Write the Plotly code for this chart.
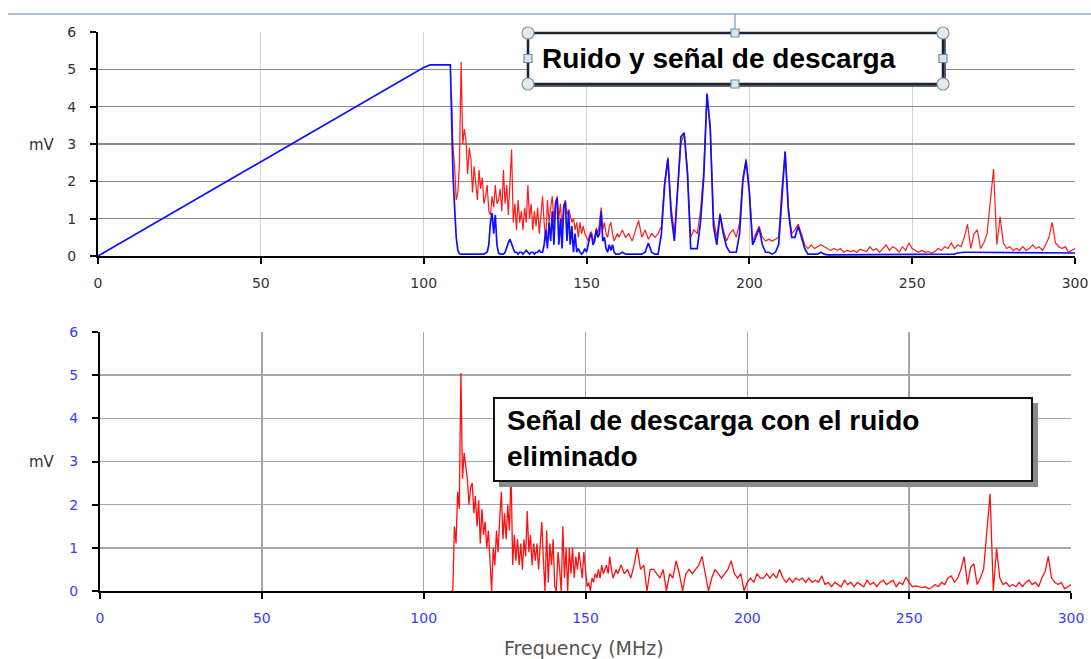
import plotly.graph_objects as go

# ---------------- data ----------------
# frequency grid (MHz)
freq_a = [108.5, 109.0, 109.5, 110.0, 110.5, 111.0, 111.5, 112.0, 112.5, 113.0,
          113.5, 114.0, 114.5, 115.0, 115.5, 116.0, 116.5, 117.0, 117.5, 118.0,
          118.5, 119.0, 119.5, 120.0, 120.5, 121.0, 121.5, 122.0, 122.5, 123.0,
          123.5, 124.0, 124.5, 125.0, 125.5, 126.0, 126.5, 127.0, 127.5, 128.0,
          128.5, 129.0, 129.5, 130.0, 130.5, 131.0, 131.5, 132.0, 132.5, 133.0,
          133.5, 134.0, 134.5, 135.0, 135.5, 136.0, 136.5, 137.0, 137.5, 138.0,
          138.5, 139.0, 139.5, 140.0, 140.5, 141.0, 141.5, 142.0, 142.5, 143.0,
          143.5, 144.0, 144.5, 145.0, 145.5, 146.0, 146.5, 147.0, 147.5, 148.0,
          148.5, 149.0, 149.5, 150.0, 150.5, 151.0, 151.5, 152.0, 152.5, 153.0,
          153.5, 154.0, 154.5, 155.0, 155.5, 156.0, 156.5, 157.0, 157.5, 158.0,
          158.5, 159.0, 159.5]
freq_b = [160, 161, 162, 163, 164, 165, 166, 167, 168, 169,
          170, 171, 172, 173, 174, 175, 176, 177, 178, 179,
          180, 181, 182, 183, 184, 185, 186, 187, 188, 189,
          190, 191, 192, 193, 194, 195, 196, 197, 198, 199,
          200, 201, 202, 203, 204, 205, 206, 207, 208, 209,
          210, 211, 212, 213, 214, 215, 216, 217, 218, 219,
          220, 221, 222, 223, 224, 225, 226, 227, 228, 229,
          230, 231, 232, 233, 234, 235, 236, 237, 238, 239,
          240, 241, 242, 243, 244, 245, 246, 247, 248, 249,
          250, 251, 252, 253, 254, 255, 256, 257, 258, 259,
          260, 261, 262, 263, 264, 265, 266, 267, 268, 269,
          270, 271, 272, 273, 274, 275, 276, 277, 278, 279,
          280, 281, 282, 283, 284, 285, 286, 287, 288, 289,
          290, 291, 292, 293, 294, 295, 296, 297, 298, 299,
          300]

# ramp part of the blue trace (before the noise region)
ramp_freq = [0, 100, 102, 108.2]
ramp_mv = [0, 5.05, 5.12, 5.12]

# Ruido y señal (red, top), mV
ruido_senal_a = [4.4, 2.9, 2.4, 1.5, 1.7, 2.5, 5.2, 3.0, 3.4, 3.1,
                 2.2, 2.9, 2.6, 1.7, 2.4, 2.0, 1.5, 2.3, 1.8, 2.1,
                 1.4, 1.6, 1.9, 1.2, 1.1, 1.6, 1.3, 1.9, 1.4, 1.5,
                 1.8, 1.2, 2.3, 1.4, 1.9, 1.1, 2.2, 2.85, 0.9, 1.4,
                 0.7, 1.5, 0.9, 1.2, 0.7, 1.3, 0.9, 1.9, 1.0, 1.4,
                 0.7, 1.2, 0.8, 1.3, 0.6, 1.1, 1.6, 0.9, 0.4, 1.5,
                 0.9, 1.3, 1.6, 0.9, 1.45, 1.6, 1.0, 1.4, 0.7, 1.35,
                 1.5, 1.1, 1.25, 1.1, 0.9, 1.0, 0.7, 0.9, 0.5, 0.9,
                 0.6, 0.8, 0.6, 0.5, 0.4, 0.6, 0.65, 0.4, 0.5, 0.75,
                 0.6, 0.9, 1.3, 0.7, 0.9, 0.6, 0.5, 0.8, 0.9, 0.6,
                 0.4, 0.5, 0.6]
ruido_senal_b = [0.5, 0.7, 0.5, 0.6, 0.4, 0.7, 0.95, 0.5, 0.7, 0.45,
                 0.6, 0.5, 0.6, 0.8, 2.0, 2.65, 1.3, 0.6, 1.9, 3.0,
                 3.3, 2.3, 0.5, 0.7, 0.6, 1.2, 2.3, 4.3, 3.5, 1.0,
                 0.5, 1.15, 0.7, 0.4, 0.6, 0.7, 0.5, 0.9, 2.1, 2.6,
                 1.8, 0.4, 0.6, 0.8, 0.5, 0.4, 0.45, 0.4, 0.45, 0.5,
                 1.8, 2.8, 1.3, 0.6, 0.7, 0.85, 0.6, 0.3, 0.2, 0.3,
                 0.2, 0.25, 0.3, 0.25, 0.2, 0.15, 0.2, 0.15, 0.2, 0.1,
                 0.15, 0.12, 0.15, 0.1, 0.18, 0.15, 0.12, 0.25, 0.15, 0.2,
                 0.1, 0.2, 0.3, 0.15, 0.25, 0.2, 0.1, 0.25, 0.15, 0.35,
                 0.2, 0.15, 0.1, 0.15, 0.1, 0.12, 0.08, 0.12, 0.2, 0.15,
                 0.25, 0.2, 0.35, 0.2, 0.3, 0.25, 0.5, 0.85, 0.2, 0.6,
                 0.7, 0.2, 0.35, 0.6, 1.4, 2.33, 0.3, 1.05, 0.35, 0.2,
                 0.25, 0.15, 0.2, 0.15, 0.25, 0.15, 0.2, 0.3, 0.2, 0.25,
                 0.15, 0.3, 0.5, 0.9, 0.35, 0.25, 0.2, 0.25, 0.1, 0.15,
                 0.2]

# Ruido (blue, top), mV
ruido_a = [4.0, 2.2, 1.3, 0.5, 0.15, 0.06, 0.05, 0.05, 0.05, 0.05,
           0.05, 0.05, 0.05, 0.05, 0.05, 0.05, 0.05, 0.05, 0.05, 0.05,
           0.05, 0.08, 0.1, 0.3, 0.9, 1.15, 0.6, 1.1, 0.3, 0.08,
           0.05, 0.05, 0.05, 0.1, 0.25, 0.35, 0.45, 0.35, 0.2, 0.1,
           0.1, 0.05, 0.1, 0.1, 0.05, 0.1, 0.15, 0.1, 0.05, 0.1,
           0.1, 0.05, 0.1, 0.1, 0.15, 0.1, 0.1, 0.3, 0.7, 0.2,
           0.9, 0.4, 1.2, 0.3, 1.4, 1.55, 0.3, 1.0, 0.2, 1.3,
           1.45, 0.4, 1.2, 0.3, 0.8, 0.1, 0.6, 0.1, 0.2, 0.1,
           0.05, 0.1, 0.2, 0.1, 0.3, 0.5, 0.6, 0.3, 0.4, 0.7,
           0.5, 0.6, 1.2, 0.4, 0.5, 0.2, 0.1, 0.3, 0.15, 0.3,
           0.1, 0.05, 0.05]
ruido_b = [0.05, 0.1, 0.05, 0.05, 0.05, 0.05, 0.05, 0.05, 0.1, 0.35,
           0.1, 0.05, 0.05, 0.6, 1.9, 2.6, 1.1, 0.4, 1.8, 3.2,
           3.3, 2.2, 0.2, 0.2, 0.2, 0.9, 2.1, 4.35, 3.4, 0.8,
           0.3, 1.1, 0.6, 0.25, 0.1, 0.1, 0.1, 0.6, 2.0, 2.55,
           1.7, 0.3, 0.5, 0.75, 0.3, 0.1, 0.1, 0.05, 0.1, 0.3,
           1.6, 2.8, 1.2, 0.5, 0.5, 0.8, 0.5, 0.2, 0.05, 0.05,
           0.05, 0.05, 0.1, 0.05, 0.03, 0.03, 0.03, 0.03, 0.03, 0.03,
           0.03, 0.03, 0.03, 0.03, 0.03, 0.03, 0.03, 0.03, 0.03, 0.03,
           0.03, 0.03, 0.03, 0.03, 0.03, 0.03, 0.03, 0.03, 0.03, 0.03,
           0.03, 0.03, 0.03, 0.03, 0.03, 0.03, 0.03, 0.03, 0.03, 0.03,
           0.03, 0.03, 0.03, 0.05, 0.08, 0.1, 0.1, 0.1, 0.1, 0.1,
           0.1, 0.1, 0.1, 0.1, 0.1, 0.1, 0.1, 0.1, 0.1, 0.1,
           0.1, 0.1, 0.1, 0.1, 0.1, 0.1, 0.1, 0.1, 0.1, 0.1,
           0.1, 0.1, 0.1, 0.1, 0.1, 0.1, 0.1, 0.1, 0.1, 0.1,
           0.08]

# Señal de descarga con el ruido eliminado (red, bottom), mV
senal_a = [0.0, 0.0, 1.5, 1.1, 2.3, 1.9, 5.05, 2.6, 3.2, 2.9,
           2.6, 2.0, 2.4, 2.5, 1.8, 2.2, 1.5, 2.1, 1.1, 1.9,
           1.3, 1.6, 1.0, 1.4, 0.8, 0.0, 1.0, 0.6, 1.4, 0.9,
           1.7, 2.3, 1.2, 1.8, 1.2, 2.0, 1.4, 2.8, 0.6, 1.3,
           0.7, 1.2, 0.6, 1.1, 0.5, 1.2, 0.8, 1.85, 0.9, 1.3,
           0.6, 1.1, 0.7, 1.1, 0.5, 1.0, 1.6, 0.7, 0.0, 1.4,
           0.2, 1.1, 0.6, 1.2, 0.1, 0.0, 0.9, 0.5, 0.0, 1.5,
           0.3, 1.0, 0.0, 1.0, 0.4, 1.0, 0.3, 0.8, 0.5, 0.9,
           0.6, 0.3, 0.9, 0.5, 0.1, 0.2, 0.0, 0.3, 0.2, 0.4,
           0.3, 0.5, 0.3, 0.6, 0.4, 0.5, 0.6, 0.4, 0.8, 0.5,
           0.3, 0.4, 0.5]
senal_b = [0.4, 0.6, 0.4, 0.5, 0.3, 0.6, 1.0, 0.5, 0.6, 0.0,
           0.5, 0.5, 0.4, 0.3, 0.5, 0.0, 0.4, 0.3, 0.7, 0.4,
           0.0, 0.4, 0.5, 0.4, 0.5, 0.6, 0.8, 0.4, 0.0, 0.3,
           0.5, 0.4, 0.3, 0.4, 0.5, 0.7, 0.4, 0.3, 0.4, 0.0,
           0.2, 0.3, 0.2, 0.4, 0.3, 0.3, 0.4, 0.3, 0.4, 0.3,
           0.5, 0.3, 0.2, 0.3, 0.2, 0.3, 0.25, 0.3, 0.2, 0.3,
           0.2, 0.25, 0.2, 0.35, 0.15, 0.2, 0.1, 0.2, 0.15, 0.1,
           0.25, 0.15, 0.2, 0.1, 0.2, 0.15, 0.1, 0.25, 0.15, 0.2,
           0.1, 0.2, 0.25, 0.15, 0.2, 0.25, 0.1, 0.2, 0.15, 0.32,
           0.2, 0.1, 0.12, 0.1, 0.08, 0.1, 0.05, 0.08, 0.15, 0.1,
           0.2, 0.15, 0.3, 0.35, 0.2, 0.3, 0.5, 0.8, 0.15, 0.55,
           0.63, 0.15, 0.3, 0.5, 1.3, 2.25, 0.0, 0.99, 0.3, 0.15,
           0.2, 0.1, 0.15, 0.1, 0.2, 0.1, 0.2, 0.25, 0.15, 0.2,
           0.1, 0.3, 0.45, 0.8, 0.3, 0.2, 0.15, 0.2, 0.05, 0.1,
           0.15]

x_ticks = [0, 50, 100, 150, 200, 250, 300]
y_ticks = [0, 1, 2, 3, 4, 5, 6]

title_top = "Ruido y señal de descarga"
title_bottom = "Señal de descarga con el ruido<br>eliminado"
x_title = "Frequency (MHz)"
y_title = "mV"

for a, b in [(ruido_senal_a, ruido_senal_b), (ruido_a, ruido_b), (senal_a, senal_b)]:
    assert len(a) == len(freq_a), (len(a), len(freq_a))
    assert len(b) == len(freq_b), (len(b), len(freq_b))

freq = freq_a + freq_b
ruido_senal = ruido_senal_a + ruido_senal_b
ruido = ruido_a + ruido_b
senal = senal_a + senal_b

# ---------------- figure ----------------
W, H = 1091, 659


def px(x):
    return x / W


def py(y):
    return 1 - y / H


fig = go.Figure()
fig.add_trace(go.Scatter(x=freq, y=ruido_senal, mode="lines", xaxis="x", yaxis="y",
                         line=dict(color="#ff1a1a", width=1.2), hoverinfo="skip"))
fig.add_trace(go.Scatter(x=ramp_freq + freq, y=ramp_mv + ruido, mode="lines", xaxis="x", yaxis="y",
                         line=dict(color="#1010ff", width=1.7), hoverinfo="skip"))
fig.add_trace(go.Scatter(x=freq, y=senal, mode="lines", xaxis="x2", yaxis="y2",
                         line=dict(color="#ff1010", width=1.3), hoverinfo="skip"))

tick_font_top = dict(family="DejaVu Sans", size=14, color="#333333")
tick_font_bot = dict(family="DejaVu Sans", size=14, color="#3a3aff")

common_x = dict(range=[0, 300], tickvals=x_ticks, showline=True, linecolor="black", linewidth=2,
                ticks="outside", ticklen=6, tickwidth=2, tickcolor="black", zeroline=False,
                ticklabelstandoff=7, fixedrange=True)
common_y = dict(range=[0, 6], tickvals=y_ticks, showline=True, linecolor="black", linewidth=2,
                ticks="outside", ticklen=6, tickwidth=2, tickcolor="black", zeroline=False,
                ticklabelstandoff=11, fixedrange=True)

fig.update_layout(
    width=W, height=H, autosize=False,
    margin=dict(l=0, r=0, t=0, b=0, autoexpand=False),
    paper_bgcolor="white", plot_bgcolor="white",
    showlegend=False,
    xaxis=dict(domain=[px(98), px(1075)], anchor="y", showgrid=True, gridcolor="#d2d2d2",
               gridwidth=1, tickfont=tick_font_top, **common_x),
    yaxis=dict(domain=[py(256), py(32)], anchor="x", showgrid=True, gridcolor="#8a8a8a",
               gridwidth=1.5, tickfont=tick_font_top, **common_y),
    xaxis2=dict(domain=[px(100), px(1071)], anchor="y2", showgrid=True, gridcolor="#a6a6a6",
                gridwidth=1.6, tickfont=tick_font_bot, **common_x),
    yaxis2=dict(domain=[py(591), py(332)], anchor="x2", showgrid=True, gridcolor="#a6a6a6",
                gridwidth=1.6, tickfont=tick_font_bot, **common_y),
)

shapes = []
# thin light-blue line at the very top
shapes.append(dict(type="line", xref="paper", yref="paper", x0=px(8), x1=px(1091), y0=py(14), y1=py(14),
                   line=dict(color="#a9c1df", width=2), layer="above"))

# top text box (selected shape look)
shapes.append(dict(type="line", xref="paper", yref="paper", x0=px(735), x1=px(735), y0=py(14), y1=py(30),
                   line=dict(color="#7f97a8", width=1.2), layer="above"))
shapes.append(dict(type="rect", xref="paper", yref="paper", x0=px(531), x1=px(946), y0=py(36), y1=py(87),
                   fillcolor="#5e6670", line=dict(width=0), layer="above"))
shapes.append(dict(type="rect", xref="paper", yref="paper", x0=px(528), x1=px(943), y0=py(33), y1=py(84),
                   fillcolor="white", line=dict(color="#1c2330", width=2.5), layer="above"))
for (cx, cy) in [(528, 33), (943, 33), (528, 84), (943, 84)]:
    shapes.append(dict(type="circle", xref="paper", yref="paper", x0=px(cx - 6), x1=px(cx + 6),
                       y0=py(cy - 6), y1=py(cy + 6), fillcolor="#e2ebf1",
                       line=dict(color="#7f97a8", width=1.2), layer="above"))
for (cx, cy) in [(735, 33), (735, 84), (528, 58.5), (943, 58.5)]:
    shapes.append(dict(type="rect", xref="paper", yref="paper", x0=px(cx - 4), x1=px(cx + 4),
                       y0=py(cy - 4), y1=py(cy + 4), fillcolor="#d4e6f2",
                       line=dict(color="#6f8fa6", width=1.2), layer="above"))

# bottom text box with shadow
shapes.append(dict(type="rect", xref="paper", yref="paper", x0=px(499), x1=px(1038), y0=py(403), y1=py(487),
                   fillcolor="#8a8a8a", line=dict(width=0), layer="above"))
shapes.append(dict(type="rect", xref="paper", yref="paper", x0=px(494), x1=px(1032), y0=py(398), y1=py(481),
                   fillcolor="white", line=dict(color="#111111", width=2), layer="above"))
fig.update_layout(shapes=shapes)

annotations = [
    dict(text=f"<b>{title_top}</b>", xref="paper", yref="paper", x=px(540), y=py(58.5),
         xanchor="left", yanchor="middle", showarrow=False, align="left",
         font=dict(family="Liberation Sans", size=28, color="#000000")),
    dict(text=f"<b>{title_bottom}</b>", xref="paper", yref="paper", x=px(505), y=py(438),
         xanchor="left", yanchor="middle", showarrow=False, align="left",
         font=dict(family="Liberation Sans", size=28, color="#000000")),
    dict(text=y_title, xref="paper", yref="paper", x=px(42), y=py(145), xanchor="center", yanchor="middle",
         showarrow=False, font=dict(family="DejaVu Sans", size=15, color="#333333")),
    dict(text=y_title, xref="paper", yref="paper", x=px(42), y=py(462), xanchor="center", yanchor="middle",
         showarrow=False, font=dict(family="DejaVu Sans", size=15, color="#333333")),
    dict(text=x_title, xref="paper", yref="paper", x=px(584), y=py(648), xanchor="center", yanchor="middle",
         showarrow=False, font=dict(family="DejaVu Sans", size=19, color="#555555")),
]
fig.update_layout(annotations=annotations)

fig.write_html("out.html", config={"displayModeBar": False, "staticPlot": True},
               post_script="document.body.style.margin='0';document.body.style.padding='0';"
                           "document.body.style.overflow='hidden';")
